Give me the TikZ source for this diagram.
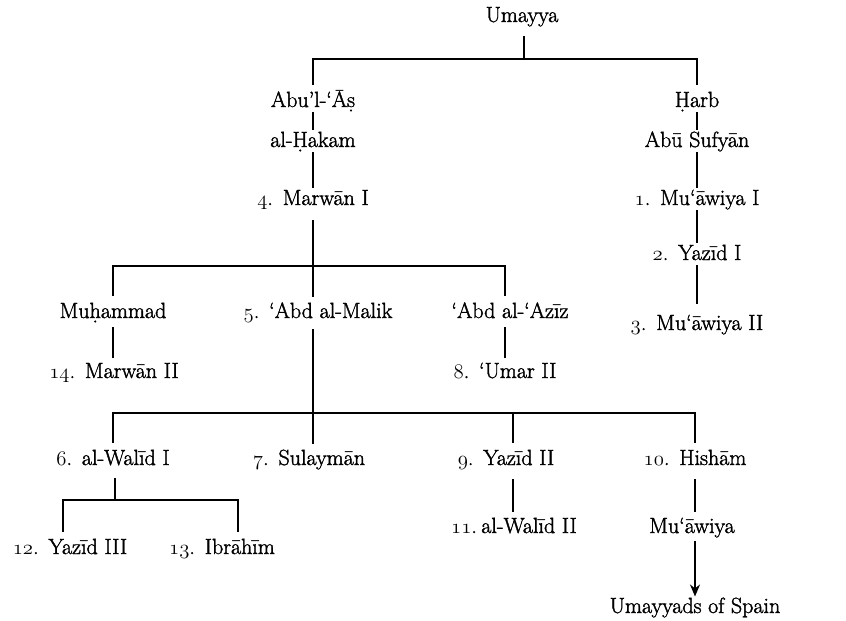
\documentclass[tikz,border=0pt]{standalone}
\usepackage{fontspec}
\setmainfont{Latin Modern Roman}[FakeBold=1.6]
\usetikzlibrary{arrows.meta}

% old-style figure taken from the math italic font
\newcommand\ofig[1]{{\usefont{OML}{cmm}{m}{it}#1}}
% number of a caliph: figure, full stop and a wide gap
\newcommand\gnum[1]{\ofig{#1}.\hspace{0.45em}}

\tikzset{
  person/.style={anchor=base, inner sep=0pt, outer sep=0pt,
    text height=13.5pt, text depth=3pt,
    font=\fontsize{22}{26}\selectfont},
  tie/.style={line width=1.5pt, shorten <=2pt, shorten >=4pt},
  drop/.style={tie, shorten <=9pt, shorten >=9pt},
  descent/.style={tie, shorten <=5pt, shorten >=3pt,
    -{Stealth[length=12pt,width=10pt]}}
}

\begin{document}
\begin{tikzpicture}[x=1pt,y=-1pt]
\useasboundingbox (0,0) rectangle (846,621);

% ---- generations ----
\node[person] (umayya)    at (522,22)  {Umayya};

\node[person] (abulas)    at (313,107) {Abu’l-‘Āṣ};
\node[person] (harb)      at (697,107) {Ḥarb};
\node[person] (hakam)     at (313,147) {al-Ḥakam};
\node[person] (abusufyan) at (697,147) {Abū Sufyān};
\node[person] (marwanA)   at (313,205) {\gnum{4}Marwān I};
\node[person] (muawiyaA)  at (697,205) {\gnum{1}Mu‘āwiya I};
\node[person] (yazidA)    at (697,260) {\gnum{2}Yazīd I};
\node[person] (muawiyaB)  at (697,330) {\gnum{3}Mu‘āwiya II};

\node[person] (muhammad)  at (113,318) {Muḥammad};
\node[person] (abdmalik)  at (318,318) {\gnum{5}‘Abd al-Malik};
\node[person] (abdaziz)   at (510,318) {‘Abd al-‘Azīz};
\node[person] (marwanB)   at (114,378) {\gnum{14}Marwān II};
\node[person] (umarB)     at (505,378) {\gnum{8}‘Umar II};

\node[person] (walidA)    at (113,465) {\gnum{6}al-Walīd I};
\node[person] (sulayman)  at (309,465) {\gnum{7}Sulaymān};
\node[person] (yazidB)    at (506,465) {\gnum{9}Yazīd II};
\node[person] (hisham)    at (695,465) {\gnum{10}Hishām};

\node[person] (yazidC)    at (70,554)  {\gnum{12}Yazīd III};
\node[person] (ibrahim)   at (222,554) {\gnum{13}Ibrāhīm};
\node[person] (walidB)    at (514,533) {\ofig{11}.\hspace{0.2em}al-Walīd II};
\node[person] (muawiya)   at (692,533) {Mu‘āwiya};
\node[person] (spain)     at (695,613) {Umayyads of Spain};

% ---- junction points of the bars and lines of descent ----
\coordinate (ju)  at (524,59);
\coordinate (jm)  at (313,266);
\coordinate (jz)  at (505,266);
\coordinate (ja)  at (313,413);
\coordinate (jy)  at (513,413);
\coordinate (jw)  at (115,500);
\coordinate (jl)  at (63,500);
\coordinate (jr)  at (238,500);

\draw[tie, shorten <=11pt, shorten >=0pt] (ju |- umayya.south) -- (ju);
\draw[drop] (abulas.north) |- (ju) -| (harb.north);

\draw[tie] (abulas.south) -- (hakam.north);
\draw[tie] (hakam.south) -- (marwanA.north);
\draw[tie] (harb.south) -- (abusufyan.north);
\draw[tie] (abusufyan.south) -- (muawiyaA.north);
\draw[tie] (muawiyaA.south) -- (yazidA.north);
\draw[tie, shorten >=13pt] (yazidA.south) -- (muawiyaB.north);

\draw[tie, shorten <=12pt, shorten >=8pt] (marwanA.south) -- (jm |- abdmalik.north);
\draw[drop] (muhammad.north) |- (jm) -| (jz |- abdaziz.north);
\draw[tie, shorten <=6pt, shorten >=7pt] (muhammad.south) -- (muhammad.south |- marwanB.north);
\draw[tie, shorten <=6pt, shorten >=7pt] (jz |- abdaziz.south) -- (jz |- umarB.north);

\draw[tie, shorten <=8pt, shorten >=8pt] (ja |- abdmalik.south) -- (ja |- sulayman.north);
\draw[drop] (walidA.north) |- (jy) -| (hisham.north);
\draw[drop, shorten <=0pt] (jy) -- (jy |- yazidB.north);

\draw[tie, shorten <=10pt, shorten >=0pt] (jw |- walidA.south) -- (jw);
\draw[drop] (jl |- yazidC.north) -- (jl) -- (jr) -- (jr |- ibrahim.north);

\draw[tie, shorten <=11pt, shorten >=8pt] (jy |- yazidB.south) -- (jy |- walidB.north);
\draw[tie, shorten <=11pt, shorten >=8pt] (hisham.south) -- (hisham.south |- muawiya.north);
\draw[descent] (hisham.south |- muawiya.south) -- (hisham.south |- spain.north);
\end{tikzpicture}
\end{document}
